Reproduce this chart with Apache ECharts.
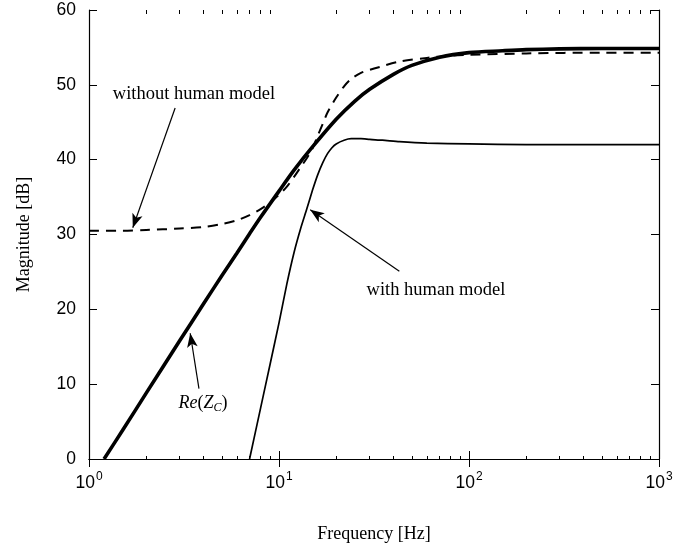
<!DOCTYPE html>
<html><head><meta charset="utf-8">
<script src="https://cdn.jsdelivr.net/npm/echarts@6/dist/echarts.min.js"></script>
<style>html,body{margin:0;padding:0;background:#fff}#c{width:687px;height:548px}</style>
</head><body><div id="c"></div>
<script>
// Re(Z_C) (thick solid)
const freqRe = [1.2, 1.5, 2, 3, 4, 5, 6, 7, 8, 10, 12, 15, 20, 25, 30, 40, 50, 70, 100, 150, 200, 300, 500, 1000];
const magRe  = [0, 3.8, 8.8, 15.8, 20.7, 24.5, 27.5, 30.1, 32.3, 35.8, 38.6, 41.7, 45.4, 47.8, 49.4, 51.4, 52.6, 53.7, 54.3, 54.55, 54.7, 54.8, 54.85, 54.85];
// without human model (dashed)
const freqNoHuman = [1, 1.5, 2, 3, 4, 5, 6, 7, 8, 9, 10, 11, 12, 13, 14, 15, 16, 17, 18, 20, 22, 24, 27, 30, 34, 43, 60, 80, 100, 200, 500, 1000];
const magNoHuman  = [30.5, 30.5, 30.6, 30.8, 31.0, 31.4, 31.9, 32.6, 33.4, 34.3, 35.3, 36.4, 37.7, 39.0, 40.2, 41.5, 43.2, 44.8, 46.3, 48.3, 49.8, 50.8, 51.6, 52.0, 52.4, 53.1, 53.6, 53.9, 54.0, 54.2, 54.3, 54.3];
// with human model (thin solid)
const freqHuman = [7, 8, 9, 10, 11, 12, 13, 14, 15, 16, 17, 18, 19, 20, 22, 24, 27, 30, 35, 43, 60, 100, 200, 500, 1000];
const magHuman  = [0, 6.8, 12.8, 18.2, 23.4, 27.6, 30.8, 33.4, 35.9, 38.0, 39.6, 40.8, 41.6, 42.1, 42.6, 42.8, 42.8, 42.7, 42.6, 42.4, 42.2, 42.1, 42.0, 42.0, 42.0];

// axes / ticks
const xTickValues = [1, 10, 100, 1000];
const xTickExp = ['0', '1', '2', '3'];
const xMinorTicks = [2,3,4,5,6,7,8,9,20,30,40,50,60,70,80,90,200,300,400,500,600,700,800,900];
const yMin = 0, yMax = 60, yStep = 10;

// annotations
const annoTexts = ['without human model', 'with human model', 'Re(Z_C)'];
const annoFreq  = [3.57, 67, 3.98];
const annoMag   = [48.7, 22.6, 7.5];
const arrowFrom = [[2.84, 46.9], [43, 25.1], [3.79, 9.4]];
const arrowTo   = [[1.7, 30.9], [14.6, 33.3], [3.41, 16.8]];

const SANS = "'Liberation Sans', Arial, Helvetica, sans-serif";
const SERIF = "'Liberation Serif', 'Times New Roman', serif";

const pair = (xs, ys) => xs.map((x, i) => [x, ys[i]]);

const chart = echarts.init(document.getElementById('c'), null, {renderer: 'canvas'});

const axisLineStyle = {show: true, lineStyle: {color: '#000', width: 1.2}};
const gridPos = {left: 89, right: 28, top: 10, bottom: 88};

const option = {
  animation: false,
  backgroundColor: '#fff',
  grid: [Object.assign({}, gridPos), Object.assign({}, gridPos)],
  xAxis: [
    {
      gridIndex: 0, type: 'log', logBase: 10, min: 1, max: 1000, position: 'bottom',
      axisLine: axisLineStyle,
      axisTick: {show: true, inside: true, length: 8, customValues: xTickValues, lineStyle: {color: '#000', width: 1}},
      axisLabel: {
        customValues: xTickValues, margin: 12, color: '#000',
        formatter: function (v) {
          const i = xTickValues.findIndex(t => Math.abs(Math.log10(t) - Math.log10(v)) < 1e-6);
          return '{b|10}{s|' + (i >= 0 ? xTickExp[i] : '') + '}';
        },
        rich: {
          b: {fontSize: 17.5, fontFamily: SANS, color: '#000'},
          s: {fontSize: 12, fontFamily: SANS, color: '#000', padding: [0, 0, 12, 1]}
        }
      },
      splitLine: {show: false},
      name: 'Frequency [Hz]', nameLocation: 'middle', nameGap: 66,
      nameTextStyle: {fontFamily: SERIF, fontSize: 18, color: '#000'}
    },
    {
      gridIndex: 0, type: 'log', logBase: 10, min: 1, max: 1000, position: 'top',
      axisLine: axisLineStyle,
      axisTick: {show: true, inside: true, length: 8, customValues: xTickValues, lineStyle: {color: '#000', width: 1}},
      axisLabel: {show: false}, splitLine: {show: false}
    },
    {
      gridIndex: 1, type: 'log', logBase: 10, min: 1, max: 1000, position: 'bottom',
      axisLine: {show: false},
      axisTick: {show: true, inside: true, length: 4, customValues: xMinorTicks, lineStyle: {color: '#000', width: 1}},
      axisLabel: {show: false}, splitLine: {show: false}
    },
    {
      gridIndex: 1, type: 'log', logBase: 10, min: 1, max: 1000, position: 'top',
      axisLine: {show: false},
      axisTick: {show: true, inside: true, length: 4, customValues: xMinorTicks, lineStyle: {color: '#000', width: 1}},
      axisLabel: {show: false}, splitLine: {show: false}
    }
  ],
  yAxis: [
    {
      gridIndex: 0, type: 'value', min: yMin, max: yMax, interval: yStep, position: 'left',
      axisLine: axisLineStyle,
      axisTick: {show: true, inside: true, length: 8, lineStyle: {color: '#000', width: 1}},
      axisLabel: {margin: 13, fontSize: 17.5, fontFamily: SANS, color: '#000'},
      splitLine: {show: false},
      name: 'Magnitude [dB]', nameLocation: 'middle', nameGap: 56,
      nameTextStyle: {fontFamily: SERIF, fontSize: 18, color: '#000'}
    },
    {
      gridIndex: 0, type: 'value', min: yMin, max: yMax, interval: yStep, position: 'right',
      axisLine: axisLineStyle,
      axisTick: {show: true, inside: true, length: 8, lineStyle: {color: '#000', width: 1}},
      axisLabel: {show: false}, splitLine: {show: false}
    },
    {
      gridIndex: 1, type: 'value', min: yMin, max: yMax, show: false
    }
  ],
  series: [
    {
      name: 'without human model', type: 'line', xAxisIndex: 0, yAxisIndex: 0,
      data: pair(freqNoHuman, magNoHuman), showSymbol: false, smooth: 0.3,
      lineStyle: {color: '#000', width: 2, type: [10, 7]}, z: 3
    },
    {
      name: 'Re(Z_C)', type: 'line', xAxisIndex: 0, yAxisIndex: 0,
      data: pair(freqRe, magRe), showSymbol: false, smooth: 0.3,
      lineStyle: {color: '#000', width: 3.6}, z: 4
    },
    {
      name: 'with human model', type: 'line', xAxisIndex: 0, yAxisIndex: 0,
      data: pair(freqHuman, magHuman), showSymbol: false, smooth: 0.2,
      lineStyle: {color: '#000', width: 1.7}, z: 5,
      markLine: {
        silent: true, animation: false,
        symbol: ['none', 'arrow'], symbolSize: [8, 14],
        label: {show: false},
        lineStyle: {color: '#000', width: 1.2, type: 'solid'},
        emphasis: {disabled: true},
        data: arrowFrom.map((p, i) => [{coord: p}, {coord: arrowTo[i]}])
      }
    }
  ]
};
chart.setOption(option);

function place() {
  const g = annoTexts.map((t, i) => {
    const p = chart.convertToPixel({gridIndex: 0}, [annoFreq[i], annoMag[i]]);
    let text = t, rich;
    if (t === 'Re(Z_C)') {
      text = '{i|Re}{u|(}{i|Z}{sub|C}{u|)}';
      rich = {
        i: {fontFamily: SERIF, fontStyle: 'italic', fontSize: 18, fill: '#000'},
        u: {fontFamily: SERIF, fontSize: 18, fill: '#000'},
        sub: {fontFamily: SERIF, fontStyle: 'italic', fontSize: 12, fill: '#000', padding: [10, 0, 0, 0]}
      };
    }
    return {
      type: 'text', x: p[0], y: p[1], z: 10,
      style: {text: text, rich: rich, fontFamily: SERIF, fontSize: 18.5, fill: '#000', align: 'center', verticalAlign: 'middle'}
    };
  });
  chart.setOption({graphic: g});
}
place();
</script></body></html>
